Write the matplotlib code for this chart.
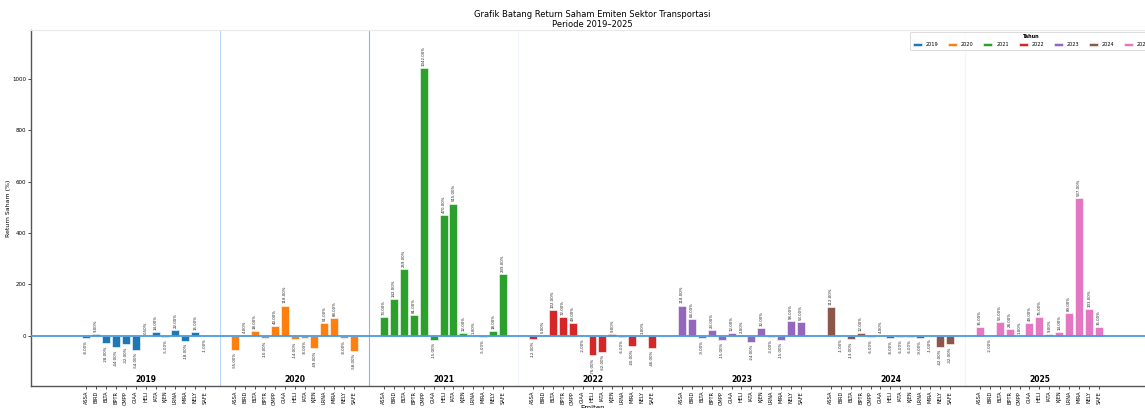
import matplotlib
matplotlib.use("Agg")
import matplotlib.pyplot as plt
import numpy as np

years = ["2019", "2020", "2021", "2022", "2023", "2024", "2025"]
emiten = ["ASSA", "BIRD", "BLTA", "BPTR", "CMPP", "GIAA", "HELI",
          "IATA", "KJEN", "LRNA", "MIRA", "NELY", "SAFE"]

ret_2019 = [-8, 9, -28, -44, -32, -54, 0.5, 14, -5, 22, -18, 15, -1]
ret_2020 = [-55, 4, 18, -10, 40, 118, -14, -8, -49, 51, 68, -8, -58]
ret_2021 = [73, 142, 259, 81, 1042, -15, 470, 515, 12, 1, -5, 18, 239]
ret_2022 = [-12, 5, 102, 72, 49, -2, -76, -62, 9, -6, -40, 1, -46]
ret_2023 = [118, 64, -9, 23, -15, 12, 2, -24, 32, -3, -15, 58, 53]
ret_2024 = [112, -1, -13, 12, -6, 4, -8, -6, -6, -9, -1, -42, -32]
ret_2025 = [35, -2, 53, 28, 1, 49, 75, 9, 14, 89, 537, 103, 35]

series = [ret_2019, ret_2020, ret_2021, ret_2022, ret_2023, ret_2024, ret_2025]
colors = ["#1f77b4", "#ff7f0e", "#2ca02c", "#d62728", "#9467bd", "#8c564b", "#e377c2"]

fig = plt.figure(figsize=(11.45, 4.08), dpi=100)
ax = fig.add_axes([31 / 1145, 1 - 386 / 408, (1154 - 31) / 1145, (386 - 30) / 408])

n = len(emiten)
step = n + 2
all_pos = []
all_lab = []
for gi, (yr, vals, col) in enumerate(zip(years, series, colors)):
    pos = gi * step + np.arange(n)
    ax.bar(pos, vals, width=0.8, color=col, edgecolor="white",
           linewidth=0.4, label=yr, zorder=2)
    for p, v in zip(pos, vals):
        if v >= 0:
            ax.text(p, v + 8, f"{v:.2f}%", rotation=90, ha="center", va="bottom",
                    fontsize=2.8, color="#222222")
        else:
            ax.text(p, v - 8, f"{v:.2f}%", rotation=90, ha="center", va="top",
                    fontsize=2.8, color="#222222")
    ax.text(gi * step + (n - 1) / 2, -188, yr, ha="center", va="bottom",
            fontsize=5.5, fontweight="bold")
    all_pos.extend(pos)
    all_lab.extend(emiten)

# separators between year groups
sep_alpha = [0.35, 0.6, 0.08, 0.0, 0.0, 0.08]
for gi in range(1, len(years)):
    a = sep_alpha[gi - 1]
    if a > 0:
        ax.axvline(gi * step - 1.5, color="#3a8ad6", linewidth=0.8, alpha=a, zorder=1)

ax.axhline(0, color="#4a9ade", linewidth=1.3, zorder=3)

ax.set_xlim(-5.54, 107.54)
ax.set_ylim(-195, 1190)
ax.set_xticks(all_pos)
ax.set_xticklabels(all_lab, rotation=90, fontsize=3.6)
ax.set_yticks([0, 200, 400, 600, 800, 1000])
ax.tick_params(axis="both", length=2, width=0.5, pad=1.5)
ax.tick_params(axis="y", labelsize=4)

for s in ["left", "bottom"]:
    ax.spines[s].set_color("#555555")
    ax.spines[s].set_linewidth(1.0)
ax.spines["top"].set_color("#e8e8e8")
ax.spines["top"].set_linewidth(0.8)
ax.spines["right"].set_visible(False)

ax.set_ylabel("Return Saham (%)", fontsize=4.5, labelpad=1)
ax.set_xlabel("Emiten", fontsize=5, labelpad=0.5)
ax.set_title("Grafik Batang Return Saham Emiten Sektor Transportasi\nPeriode 2019\u20132025",
             fontsize=6, pad=2, linespacing=1.15)

leg = ax.legend(title="Tahun", ncol=7, loc="upper right", fontsize=3.6,
                title_fontproperties={"size": 3.6, "weight": "bold"},
                handlelength=1.8, handleheight=0.6, handletextpad=0.8,
                columnspacing=1.9, borderpad=0.6, frameon=True,
                borderaxespad=0.3)
leg.get_frame().set_edgecolor("#cccccc")
leg.get_frame().set_linewidth(0.6)

fig.savefig("out.png", dpi=100)
